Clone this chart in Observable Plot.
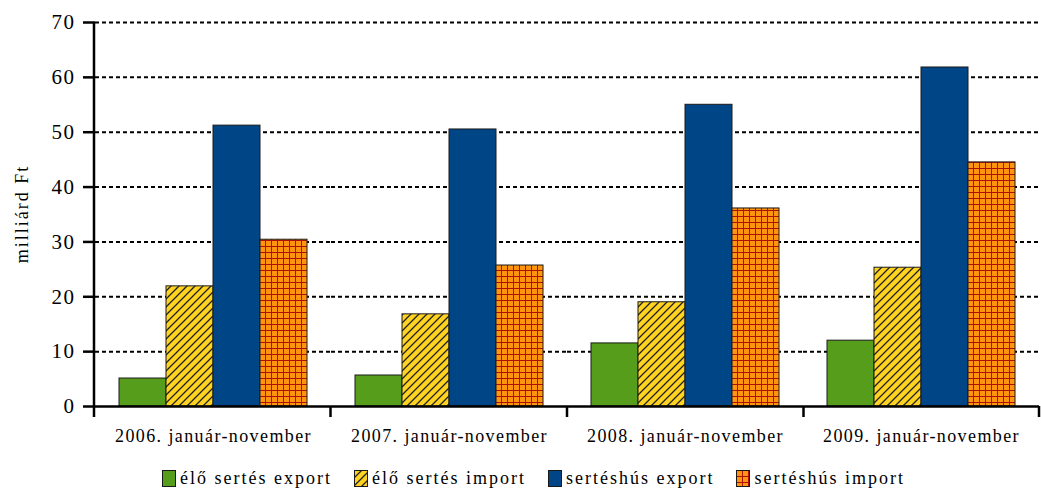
<!DOCTYPE html>
<html>
<head>
<meta charset="utf-8">
<script src="https://cdn.jsdelivr.net/npm/d3@7"></script>
<script src="https://cdn.jsdelivr.net/npm/@observablehq/plot@0.6"></script>
<style>
  body { margin: 0; background: #fff; }
  #chart svg { display: block; }
  #legend { display: flex; justify-content: center; align-items: center; gap: 22px;
    font-family: "Liberation Serif", serif; font-size: 18px; letter-spacing: 2px; color: #000;
    height: 39px; padding-left: 26px; box-sizing: border-box; padding-top: 14px; }
  #legend .item { display: flex; align-items: center; gap: 4px; }
  #legend svg { display: block; }
</style>
</head>
<body>
<div id="chart"></div>
<div id="legend"></div>
<script>
const years = ["2006. január-november", "2007. január-november", "2008. január-november", "2009. január-november"];
const series = ["élő sertés export", "élő sertés import", "sertéshús export", "sertéshús import"];
const eloSertesExport = [5.1, 5.65, 11.5, 12.0];
const eloSertesImport = [21.9, 16.8, 19.0, 25.3];
const sertesHusExport = [51.2, 50.5, 55.0, 61.8];
const sertesHusImport = [30.4, 25.7, 36.1, 44.5];
const yTicks = [0, 10, 20, 30, 40, 50, 60, 70];
const yLabel = "milliárd Ft";

const seriesFills = ["#579d1c", "url(#hatchYellow)", "#004586", "url(#gridOrange)"];

const valuesBySeries = [eloSertesExport, eloSertesImport, sertesHusExport, sertesHusImport];
const data = [];
years.forEach((year, i) => series.forEach((s, j) => data.push({year, series: s, value: valuesBySeries[j][i]})));

const plot = Plot.plot({
  width: 1041,
  height: 452,
  marginLeft: 94,
  marginRight: 1,
  marginTop: 22,
  marginBottom: 46,
  style: {fontFamily: "Liberation Serif, serif", fontSize: "18px", color: "#000", background: "#fff"},
  facet: {data, x: "year"},
  fx: {domain: years, padding: 0, label: null, tickSize: 0, tickPadding: 23, axis: "bottom"},
  x: {domain: series, paddingInner: 0, paddingOuter: 0.49, axis: null},
  y: {domain: [0, 70], ticks: yTicks, tickSize: 12, tickPadding: 8, label: null},
  color: {domain: series, range: seriesFills},
  marks: [
    Plot.ruleY(yTicks.filter(d => d > 0), {stroke: "#000", strokeWidth: 2, strokeDasharray: "4,3"}),
    Plot.barY(data, {x: "series", y: "value", fill: "series", stroke: "#1a1a1a", strokeWidth: 1}),
    Plot.ruleY([0], {stroke: "#000", strokeWidth: 2.5})
  ]
});

const svg = d3.select(plot);
const defs = svg.insert("defs", ":first-child");
const hatch = defs.append("pattern").attr("id", "hatchYellow").attr("patternUnits", "userSpaceOnUse")
  .attr("width", 8).attr("height", 8);
hatch.append("rect").attr("width", 8).attr("height", 8).attr("fill", "#ffd320");
hatch.append("path").attr("d", "M-2,2 L2,-2 M0,8 L8,0 M6,10 L10,6").attr("stroke", "#222").attr("stroke-width", 1.3);
const grid = defs.append("pattern").attr("id", "gridOrange").attr("patternUnits", "userSpaceOnUse")
  .attr("width", 6).attr("height", 6);
grid.append("rect").attr("width", 6).attr("height", 6).attr("fill", "#ff950e");
grid.append("path").attr("d", "M0,0.5 H6 M0.5,0 V6").attr("stroke", "#b0100a").attr("stroke-width", 1);

// axis styling using Plot's scales
const fx = plot.scale("fx");
const y = plot.scale("y");
const band = d3.scaleBand().domain(fx.domain).range(fx.range).paddingInner(0).paddingOuter(0);
const y0 = y.range[0], y1 = y.range[1];
const axisG = svg.append("g").attr("stroke", "#000");
axisG.append("line").attr("x1", fx.range[0]).attr("x2", fx.range[0]).attr("y1", y1).attr("y2", y0 + 1)
  .attr("stroke-width", 2.5);
const bounds = fx.domain.map(d => band(d)).concat([fx.range[1] - 1]);
axisG.selectAll("line.b").data(bounds).join("line").attr("class", "b")
  .attr("x1", d => d).attr("x2", d => d).attr("y1", y0).attr("y2", y0 + 11).attr("stroke-width", 2.5);

svg.selectAll('g[aria-label^="y-axis"] line, g[aria-label^="y-axis"] path').attr("stroke-width", 2.5);
svg.selectAll('g[aria-label^="y-axis"] text').style("font-size", "21px").style("letter-spacing", "1.5px");
svg.selectAll('g[aria-label^="fx-axis"] text').style("font-size", "18px").style("letter-spacing", "1.4px");

// rotated y label
svg.append("text")
  .attr("transform", `translate(22,${(y0 + y1) / 2}) rotate(-90)`)
  .attr("text-anchor", "middle").attr("dy", "0.35em")
  .style("font-size", "18px").style("letter-spacing", "2px")
  .attr("fill", "#000")
  .text(yLabel);

document.getElementById("chart").appendChild(plot);

// legend
const legend = d3.select("#legend");
series.forEach((s, j) => {
  const item = legend.append("div").attr("class", "item");
  const sw = item.append("svg").attr("width", 14).attr("height", 17);
  sw.append("rect").attr("x", 0.5).attr("y", 0.5).attr("width", 13).attr("height", 16)
    .attr("fill", seriesFills[j]).attr("stroke", "#1a1a1a");
  item.append("span").text(s);
});
</script>
</body>
</html>
